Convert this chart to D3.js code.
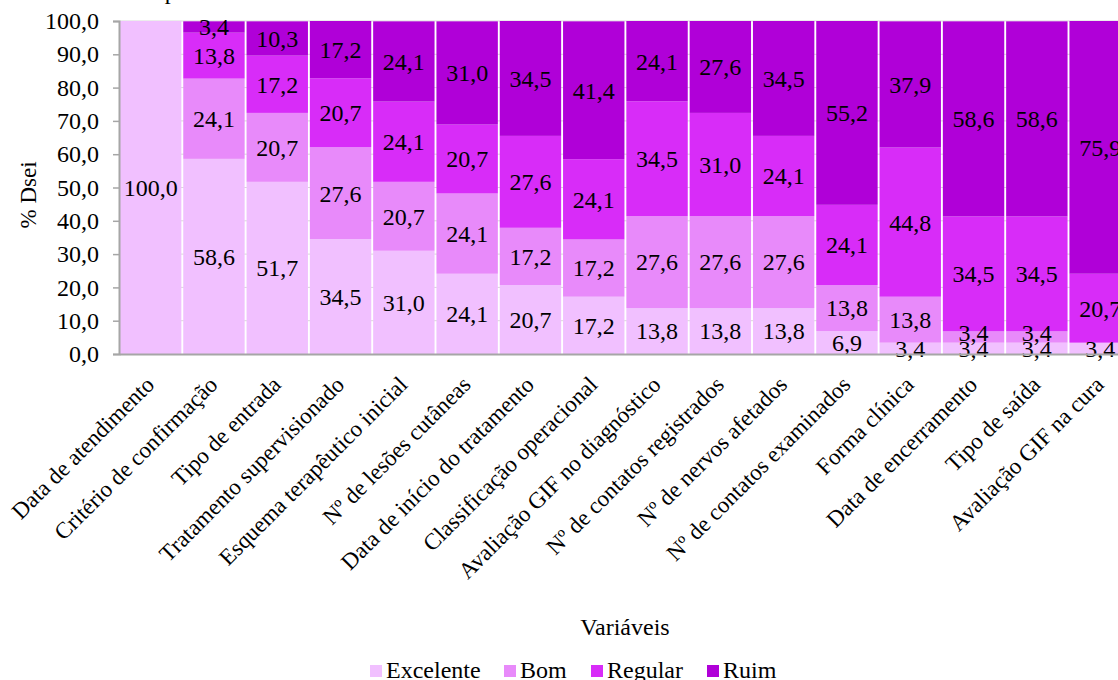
<!DOCTYPE html>
<html>
<head>
<meta charset="utf-8">
<script src="https://cdn.jsdelivr.net/npm/d3@7"></script>
<style>
  html, body { margin: 0; padding: 0; background: #fff; }
  svg { display: block; }
</style>
</head>
<body>
<svg id="chart" width="1118" height="680"></svg>
<script>
const categories = [
  "Data de atendimento",
  "Critério de confirmação",
  "Tipo de entrada",
  "Tratamento supervisionado",
  "Esquema terapêutico inicial",
  "Nº de lesões cutâneas",
  "Data de início do tratamento",
  "Classificação operacional",
  "Avaliação GIF no diagnóstico",
  "Nº de contatos registrados",
  "Nº de nervos afetados",
  "Nº de contatos examinados",
  "Forma clínica",
  "Data de encerramento",
  "Tipo de saída",
  "Avaliação GIF na cura"
];
const seriesNames = ["Excelente", "Bom", "Regular", "Ruim"];
const excelente = [100.0, 58.6, 51.7, 34.5, 31.0, 24.1, 20.7, 17.2, 13.8, 13.8, 13.8, 6.9, 3.4, 3.4, 3.4, 3.4];
const bom       = [0.0, 24.1, 20.7, 27.6, 20.7, 24.1, 17.2, 17.2, 27.6, 27.6, 27.6, 13.8, 13.8, 3.4, 3.4, 0.0];
const regular   = [0.0, 13.8, 17.2, 20.7, 24.1, 20.7, 27.6, 24.1, 34.5, 31.0, 24.1, 24.1, 44.8, 34.5, 34.5, 20.7];
const ruim      = [0.0, 3.4, 10.3, 17.2, 24.1, 31.0, 34.5, 41.4, 24.1, 27.6, 34.5, 55.2, 37.9, 58.6, 58.6, 75.9];
const yTicks = [0, 10, 20, 30, 40, 50, 60, 70, 80, 90, 100];
const colors = ["#F1C0FF", "#E88AFA", "#D82CF8", "#B000D8"];
const titleText = "Completude";
const xTitle = "Variáveis";
const yTitle = "% Dsei";

const FONT = "Liberation Serif";
const rows = categories.map((c, i) => ({
  cat: c, Excelente: excelente[i], Bom: bom[i], Regular: regular[i], Ruim: ruim[i]
}));

const svg = d3.select("#chart");
const plotLeft = 119, plotTop = 21, plotBottom = 354;
const x = d3.scaleBand().domain(categories).range([plotLeft, plotLeft + 16 * 63.3])
  .paddingInner(0.03).paddingOuter(0.015);
const y = d3.scaleLinear().domain([0, 100]).range([plotBottom, plotTop]);
const color = d3.scaleOrdinal().domain(seriesNames).range(colors);
const fmt = v => d3.format(".1f")(v).replace(".", ",");

// title (mostly outside the visible area)
svg.append("text").attr("x", 118).attr("y", -1).attr("font-size", 24)
  .attr("font-family", FONT).text(titleText);

// gridlines
svg.append("g").selectAll("line").data(yTicks.filter(t => t > 0)).join("line")
  .attr("x1", plotLeft).attr("x2", 1118)
  .attr("y1", d => y(d)).attr("y2", d => y(d))
  .attr("stroke", "#D9D9D9").attr("stroke-width", 1);

// stacked bars
const stack = d3.stack().keys(seriesNames)(rows);
const layers = svg.append("g").selectAll("g").data(stack).join("g")
  .attr("fill", d => color(d.key));
layers.selectAll("rect").data(d => d).join("rect")
  .attr("x", d => x(d.data.cat))
  .attr("width", x.bandwidth())
  .attr("y", d => y(d[1]))
  .attr("height", d => y(d[0]) - y(d[1]));

// data labels (nudged upward when they would collide with the label below)
const labels = svg.append("g").attr("font-size", 24).attr("fill", "#000").attr("text-anchor", "middle");
categories.forEach((c, i) => {
  let prevY = null;
  stack.forEach(layer => {
    const d = layer[i];
    const v = d[1] - d[0];
    if (v <= 0.001) return;
    let ly = y((d[0] + d[1]) / 2);
    if (prevY !== null && prevY - ly < 15.5) ly = prevY - 15.5;
    prevY = ly;
    labels.append("text")
      .attr("font-family", FONT)
      .attr("x", x(c) + x.bandwidth() / 2)
      .attr("y", ly)
      .attr("dy", "0.35em")
      .text(fmt(d.data[layer.key]));
  });
});

// y axis
const yAxis = svg.append("g").attr("transform", `translate(${plotLeft},0)`)
  .call(d3.axisLeft(y).tickValues(yTicks).tickFormat(fmt).tickSize(6).tickPadding(14));
yAxis.attr("font-family", FONT);
yAxis.select(".domain").attr("stroke", "#A6A6A6").attr("stroke-width", 2);
yAxis.selectAll(".tick line").attr("stroke", "#A6A6A6").attr("stroke-width", 1.5);
yAxis.selectAll(".tick text").attr("font-size", 24).attr("font-family", FONT).attr("fill", "#000");

// x axis
const xAxis = svg.append("g").attr("transform", `translate(0,${plotBottom})`)
  .call(d3.axisBottom(x).tickSize(0).tickSizeOuter(0));
xAxis.attr("font-family", FONT);
xAxis.select(".domain").attr("stroke", "#A6A6A6").attr("stroke-width", 2);
xAxis.selectAll(".tick text")
  .attr("font-size", 23).attr("font-family", FONT).attr("fill", "#000")
  .attr("text-anchor", "end").attr("x", 0).attr("y", 0).attr("dy", 0)
  .attr("transform", "translate(5,32) rotate(-45)");

// axis titles
svg.append("text").attr("x", 625).attr("y", 635).attr("text-anchor", "middle")
  .attr("font-family", FONT).attr("font-size", 24).text(xTitle);
svg.append("text").attr("transform", "translate(36,195) rotate(-90)")
  .attr("font-family", FONT).attr("text-anchor", "middle").attr("font-size", 23).text(yTitle);

// legend
const legendX = [370, 504, 591, 707];
const legend = svg.append("g");
seriesNames.forEach((s, i) => {
  legend.append("rect").attr("x", legendX[i]).attr("y", 665).attr("width", 12).attr("height", 12)
    .attr("fill", color(s));
  legend.append("text").attr("x", legendX[i] + 16).attr("y", 678)
    .attr("font-family", FONT).attr("font-size", 24).text(s);
});
</script>
</body>
</html>
